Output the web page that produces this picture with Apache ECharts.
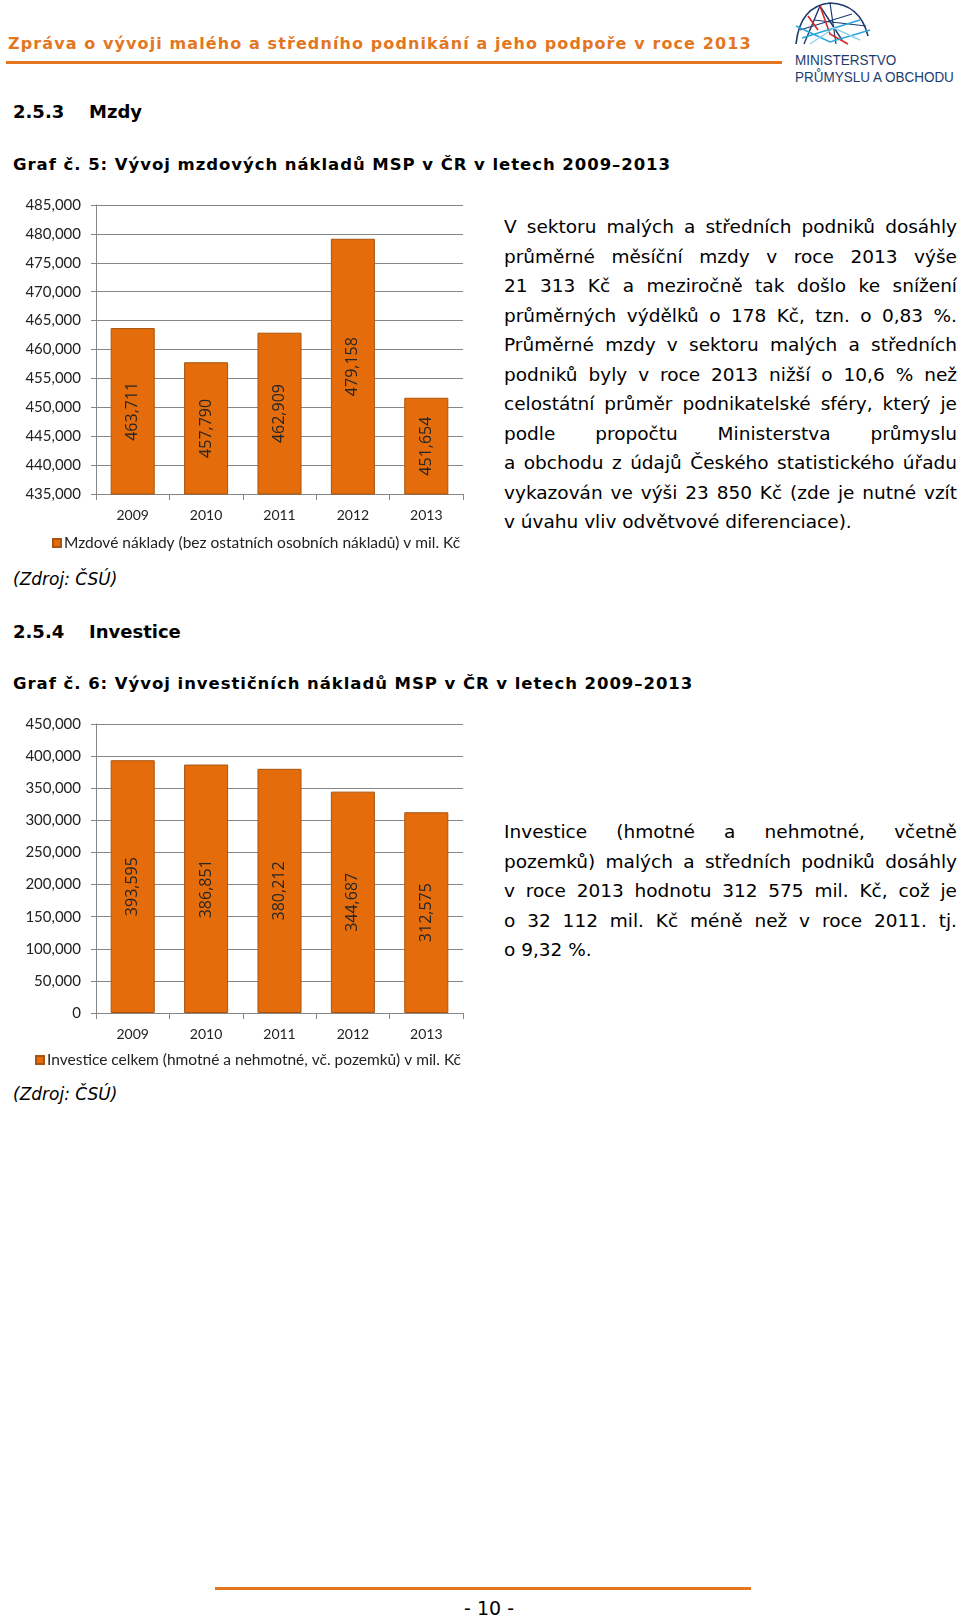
<!DOCTYPE html>
<html>
<head>
<meta charset="utf-8">
<script src="https://cdn.jsdelivr.net/npm/echarts@6/dist/echarts.min.js"></script>
<style>
  html, body { margin: 0; padding: 0; background: #fff; }
  #page { position: relative; width: 960px; height: 1618px; overflow: hidden; font-family: "DejaVu Sans", Verdana, sans-serif; color: #000; }
  .abs { position: absolute; white-space: nowrap; }
  .hdr { left: 8px; top: 34px; font-size: 16px; font-weight: bold; color: #E3761F; letter-spacing: 1.1px; }
  .hline { position: absolute; height: 3px; background: #E3761F; }
  .sec { font-size: 18px; font-weight: bold; }
  .cap { left: 13px; font-size: 16.5px; font-weight: bold; letter-spacing: 0.95px; }
  .src { left: 13px; font-size: 17px; font-style: italic; }
  .para { position: absolute; left: 504px; width: 453px; font-size: 18.5px; }
  .para div { height: 29.5px; line-height: 29.5px; text-align: justify; text-align-last: justify; white-space: nowrap; }
  .para div.last { text-align-last: left; }
  .logo-t { font-family: "Liberation Sans", sans-serif; font-size: 15.5px; color: #1D3C6E; left: 795px; transform: scaleX(0.87); transform-origin: left center; }
  .chart { position: absolute; left: 0; width: 480px; }
</style>
</head>
<body>
<div id="page">
  <!-- hlavička -->
  <div class="abs hdr">Zpráva o vývoji malého a středního podnikání a jeho podpoře v roce 2013</div>
  <div class="hline" style="left:6px; top:61px; width:776px;"></div>
  <svg class="abs" style="left:790px; top:0;" width="84" height="50" viewBox="0 0 84 50">
    <path d="M6 44 Q10 6 40 3 Q70 4 78 36" fill="none" stroke="#1D3C6E" stroke-width="1.6"/>
    <path d="M14 44 L30 6 L52 40" fill="none" stroke="#1D3C6E" stroke-width="1.4"/>
    <path d="M40 3 L46 44 M24 20 L76 26 M10 30 L62 14" fill="none" stroke="#1D3C6E" stroke-width="1.2"/>
    <path d="M30 6 L40 34 L58 44 M18 16 L28 30" fill="none" stroke="#D7262C" stroke-width="1.6"/>
    <path d="M6 26 L40 42 L80 30 M12 38 L70 20" fill="none" stroke="#2BA6D8" stroke-width="1.6"/>
    <path d="M20 44 L44 28 L70 40" fill="none" stroke="#8FD3EE" stroke-width="1.4"/>
  </svg>
  <div class="abs logo-t" style="top:51px;">MINISTERSTVO</div>
  <div class="abs logo-t" style="top:68px;">PRŮMYSLU A OBCHODU</div>

  <!-- 2.5.3 -->
  <div class="abs sec" style="left:13px; top:101px;">2.5.3</div>
  <div class="abs sec" style="left:89px; top:101px;">Mzdy</div>
  <div class="abs cap" style="top:155px;">Graf č. 5: Vývoj mzdových nákladů MSP v ČR v letech 2009–2013</div>
  <div id="chartWages" class="chart" style="top:190px; height:370px;"></div>
  <div class="abs src" style="top:569px;">(Zdroj: ČSÚ)</div>

  <div class="para" style="top:212px;">
    <div>V sektoru malých a středních podniků dosáhly</div>
    <div>průměrné měsíční mzdy v roce 2013 výše</div>
    <div>21 313 Kč a meziročně tak došlo ke snížení</div>
    <div>průměrných výdělků o 178 Kč, tzn. o 0,83 %.</div>
    <div>Průměrné mzdy v sektoru malých a středních</div>
    <div>podniků byly v roce 2013 nižší o 10,6 % než</div>
    <div>celostátní průměr podnikatelské sféry, který je</div>
    <div>podle propočtu Ministerstva průmyslu</div>
    <div>a obchodu z údajů Českého statistického úřadu</div>
    <div>vykazován ve výši 23 850 Kč (zde je nutné vzít</div>
    <div class="last">v úvahu vliv odvětvové diferenciace).</div>
  </div>

  <!-- 2.5.4 -->
  <div class="abs sec" style="left:13px; top:621px;">2.5.4</div>
  <div class="abs sec" style="left:89px; top:621px;">Investice</div>
  <div class="abs cap" style="top:674px;">Graf č. 6: Vývoj investičních nákladů MSP v ČR v letech 2009–2013</div>
  <div id="chartInvest" class="chart" style="top:700px; height:380px;"></div>
  <div class="abs src" style="top:1084px;">(Zdroj: ČSÚ)</div>

  <div class="para" style="top:817px;">
    <div>Investice (hmotné a nehmotné, včetně</div>
    <div>pozemků) malých a středních podniků dosáhly</div>
    <div>v roce 2013 hodnotu 312 575 mil. Kč, což je</div>
    <div>o 32 112 mil. Kč méně než v roce 2011. tj.</div>
    <div class="last">o 9,32 %.</div>
  </div>

  <!-- zápatí -->
  <div class="hline" style="left:215px; top:1587px; width:536px;"></div>
  <div class="abs" style="left:0; width:978px; text-align:center; top:1597px; font-size:19px;">- 10 -</div>
</div>

<script>
// data
var years = ['2009', '2010', '2011', '2012', '2013'];
var wages = [463711, 457790, 462909, 479158, 451654];
var investments = [393595, 386851, 380212, 344687, 312575];

// rozsahy os
var wagesMin = 435000, wagesMax = 485000, wagesStep = 5000;
var investMin = 0, investMax = 450000, investStep = 50000;

var wagesName = 'Mzdové náklady (bez ostatních osobních nákladů) v mil. Kč';
var investName = 'Investice celkem (hmotné a nehmotné, vč. pozemků) v mil. Kč';

function fmt(val) {
     return Number(val).toLocaleString('en-US');
}

function barOption(name, values, min, max, step, gridTop, legendLeft, legendTop) {
     return {
          animation: false,
          legend: {
               left: legendLeft,
               top: legendTop,
               padding: 0,
               itemWidth: 8,
               itemHeight: 8,
               itemGap: 10,
               icon: 'rect',
               selectedMode: false,
               textStyle: { fontFamily: 'Lato', fontSize: 15.5, color: '#222', padding: [0, 0, 0, -2] },
               data: [name]
          },
          grid: { left: 96, top: gridTop, width: 367, height: 289 },
          xAxis: {
               type: 'category',
               data: years,
               axisLine: { lineStyle: { color: '#868686', width: 1 } },
               axisTick: { show: true, length: 6, lineStyle: { color: '#868686' } },
               axisLabel: { margin: 14, fontFamily: 'Lato', fontSize: 14, color: '#222' },
               splitLine: { show: false }
          },
          yAxis: {
               type: 'value',
               min: min,
               max: max,
               interval: step,
               axisLine: { show: true, lineStyle: { color: '#868686', width: 1 } },
               axisTick: { show: true, length: 5, lineStyle: { color: '#868686' } },
               axisLabel: { margin: 15, fontFamily: 'Lato', fontSize: 15, color: '#222', formatter: fmt },
               splitLine: { show: true, lineStyle: { color: '#868686', width: 1 } }
          },
          series: [{
               name: name,
               type: 'bar',
               data: values,
               barCategoryGap: '40%',
               itemStyle: { color: '#E46C0A', borderColor: '#A85410', borderWidth: 1 },
               label: {
                    show: true,
                    position: 'inside',
                    rotate: 90,
                    fontFamily: 'Open Sans',
                    fontSize: 16,
                    color: '#262626',
                    formatter: function (p) { return fmt(p.value); }
               }
          }]
     };
}

var chartWages = echarts.init(document.getElementById('chartWages'));
chartWages.setOption(barOption(wagesName, wages, wagesMin, wagesMax, wagesStep, 15, 52, 345));

var chartInvest = echarts.init(document.getElementById('chartInvest'));
chartInvest.setOption(barOption(investName, investments, investMin, investMax, investStep, 24, 35, 352));
</script>
</body>
</html>
